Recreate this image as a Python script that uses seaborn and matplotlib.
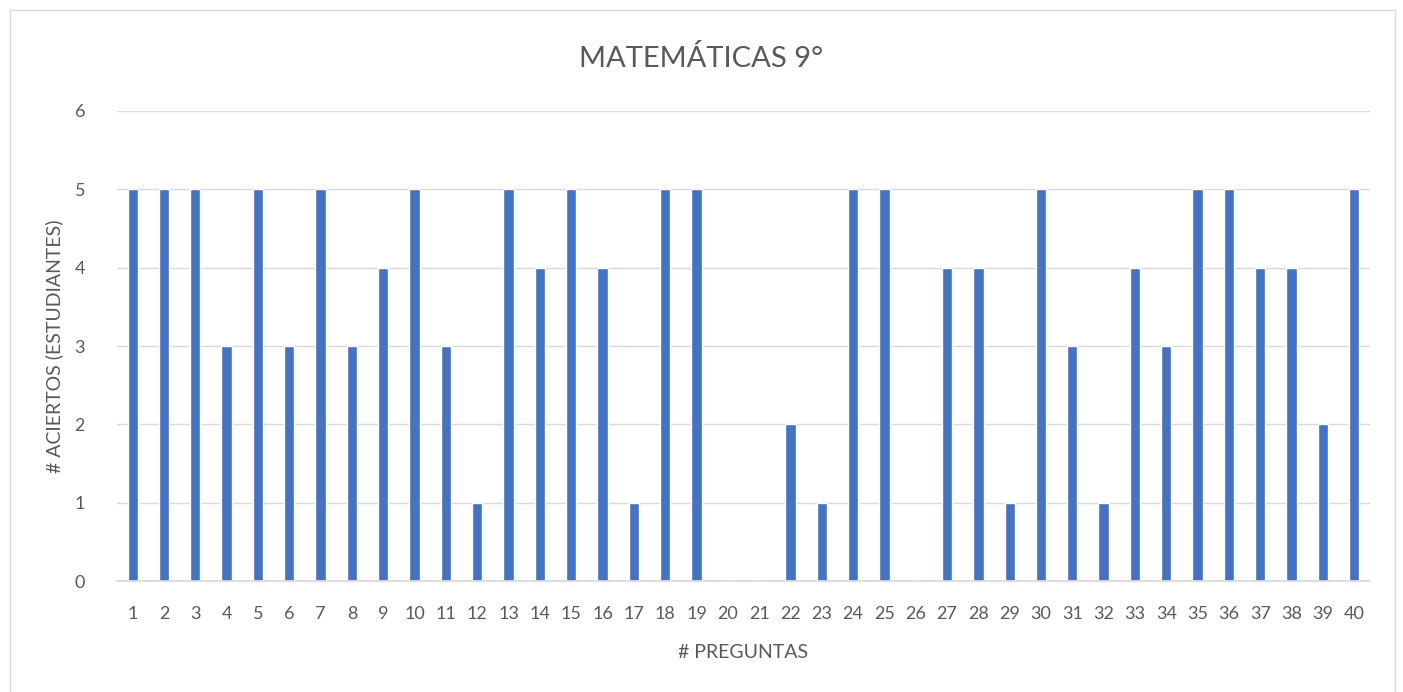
import matplotlib
matplotlib.use("Agg")
from matplotlib import pyplot as plt
from matplotlib.patches import Rectangle
import pandas as pd
import seaborn as sns

# Data
preguntas = [str(i) for i in range(1, 41)]
aciertos = [5, 5, 5, 3, 5, 3, 5, 3, 4, 5,
            3, 1, 5, 4, 5, 4, 1, 5, 5, 0,
            0, 2, 1, 5, 5, 0, 4, 4, 1, 5,
            3, 1, 4, 3, 5, 5, 4, 4, 2, 5]

df = pd.DataFrame({'pregunta': preguntas, 'aciertos': aciertos})

sns.set_theme(style='white')
plt.rcParams['font.family'] = ['Lato', 'DejaVu Sans']

fig = plt.figure(figsize=(14.03, 6.92), dpi=100)
ax = fig.add_axes([0.0834, 0.1604, 0.893, 0.6792])

sns.barplot(data=df, x='pregunta', y='aciertos', color='#4472C4',
            saturation=1, width=0.33, ax=ax, zorder=2)

ax.set_xlim(-0.5, 39.5)
ax.set_ylim(0, 6)
ax.set_yticks(range(0, 7))
ax.yaxis.grid(True, color='#D9D9D9', linewidth=1, zorder=0)
ax.set_axisbelow(True)
for side in ['top', 'right', 'left']:
    ax.spines[side].set_visible(False)
ax.spines['bottom'].set_color('#D9D9D9')
ax.tick_params(axis='both', length=0, labelsize=13, colors='#595959')
ax.tick_params(axis='y', pad=23)
ax.tick_params(axis='x', pad=18)

ax.set_xlabel('# PREGUNTAS', fontsize=14, color='#595959', labelpad=16)
ax.set_ylabel('# ACIERTOS (ESTUDIANTES)', fontsize=14, color='#595959', labelpad=8)
fig.text(0.5, 0.915, 'MATEMÁTICAS 9°', ha='center', va='center',
         fontsize=21, color='#595959')

# chart border
fig.patches.append(Rectangle((0.007, -0.01), 0.987, 0.995, transform=fig.transFigure,
                             fill=False, edgecolor='#D9D9D9', linewidth=1))

fig.savefig('out.png', dpi=100)
